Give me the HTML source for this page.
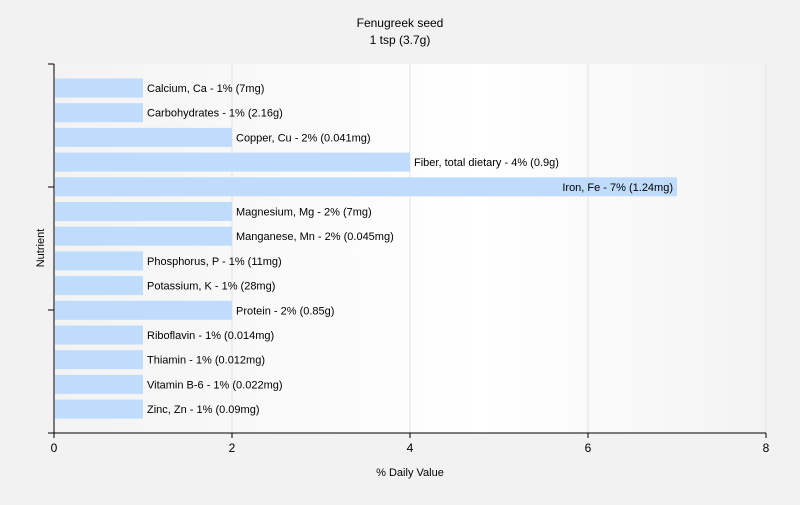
<!DOCTYPE html>
<html><head><meta charset="utf-8"><style>
body{margin:0;background:#f2f2f2;font-family:"Liberation Sans",sans-serif;}
svg text{font-family:"Liberation Sans",sans-serif;}
</style></head><body>
<svg width="800" height="500" xmlns="http://www.w3.org/2000/svg">
<defs><linearGradient id="bg" x1="0" x2="1" y1="0" y2="0">
<stop offset="0" stop-color="#f3f3f3"/><stop offset="0.6" stop-color="#ffffff"/><stop offset="1" stop-color="#f3f3f3"/></linearGradient></defs>
<rect x="0" y="0" width="800" height="500" fill="#f2f2f2"/>
<text x="400" y="27" text-anchor="middle" font-size="12">Fenugreek seed</text>
<text x="400" y="44" text-anchor="middle" font-size="12">1 tsp (3.7g)</text>
<rect x="54" y="64" width="712" height="369" fill="url(#bg)"/>
<g id="grid"></g><g id="bars"></g><g id="axes"></g>
<text x="410" y="476" text-anchor="middle" font-size="11">% Daily Value</text>
<text transform="translate(44,248) rotate(-90)" text-anchor="middle" font-size="11">Nutrient</text>
</svg>
<script>
const categories=["Calcium, Ca","Carbohydrates","Copper, Cu","Fiber, total dietary","Iron, Fe","Magnesium, Mg","Manganese, Mn","Phosphorus, P","Potassium, K","Protein","Riboflavin","Thiamin","Vitamin B-6","Zinc, Zn"];
const values=[1,1,2,4,7,2,2,1,1,2,1,1,1,1];
const amounts=["7mg","2.16g","0.041mg","0.9g","1.24mg","7mg","0.045mg","11mg","28mg","0.85g","0.014mg","0.012mg","0.022mg","0.09mg"];
const xTicks=[0,2,4,6,8];
const NS="http://www.w3.org/2000/svg";
const x=v=>54+v*89;
const y=i=>88+i*24.7;
function mk(t,a,p){const e=document.createElementNS(NS,t);for(const k in a)e.setAttribute(k,a[k]);p.appendChild(e);return e;}
const grid=document.getElementById('grid'),bars=document.getElementById('bars'),axes=document.getElementById('axes');
xTicks.forEach(t=>{if(t>0){const g=mk('line',{x1:x(t),x2:x(t),y1:64,y2:433,stroke:'#e2e2e2'},grid);

}
const tk=mk('line',{x1:x(t),x2:x(t),y1:433,y2:438,stroke:'#000'},axes);


const tl=mk('text',{x:x(t),y:452,'text-anchor':'middle','font-size':12},axes);tl.textContent=t;

});
categories.forEach((c,i)=>{const r=mk('rect',{x:55,y:y(i)-9.5,width:x(values[i])-55,height:19,fill:'#bfdcfd'},bars);


const big=values[i]>=7;
const t=mk('text',{x:big?x(values[i])-4:x(values[i])+4,y:y(i)+4,'text-anchor':big?'end':'start','font-size':11},bars);
t.textContent=c+' - '+values[i]+'% ('+amounts[i]+')';

});
const ya=mk('line',{x1:54,x2:54,y1:64,y2:433,stroke:'#000'},axes);


const xa=mk('line',{x1:54,x2:766,y1:433,y2:433,stroke:'#000'},axes);


[64,187,310,433].forEach((v,k)=>{const l=mk('line',{x1:48,x2:54,y1:v,y2:v,stroke:'#000'},axes);

});
</script>
</body></html>
